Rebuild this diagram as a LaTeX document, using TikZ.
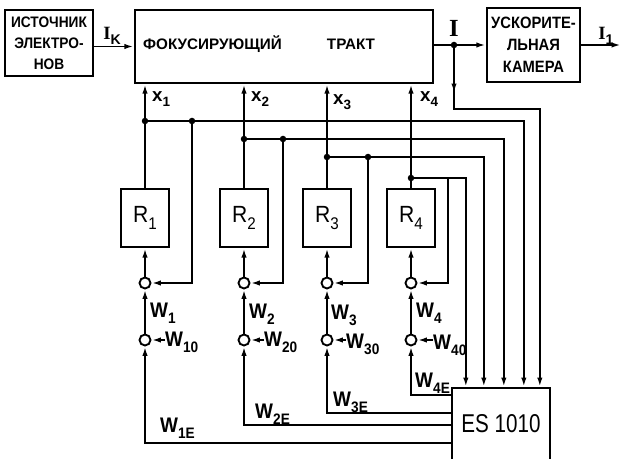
\documentclass[tikz,border=0pt]{standalone}
\usepackage{graphicx}
\usepackage{fontspec}
\setmainfont{Liberation Sans}
\newfontfamily\cfont[FakeStretch=0.9]{Liberation Sans}
\newfontfamily\esfont[FakeStretch=0.8]{Liberation Sans}
\newfontfamily\ifont{Liberation Serif}
\usetikzlibrary{positioning, arrows.meta, calc}
\newcommand{\pixel}{0.03cm}
\newcommand{\idx}[2]{#1\raisebox{-0.3em}{\scalebox{0.72}{#2}}}
\newcommand{\cur}[1]{{\ifont\bfseries I}\raisebox{-0.25em}{\scalebox{0.75}{#1}}}

\begin{document}
\begin{tikzpicture}[
    x=\pixel, y=-\pixel,
    block/.style={
        draw,
        line width=2pt,
        inner sep=0pt,
        align=center
    },
    boxsize/.style 2 args={minimum width=#1*\pixel, minimum height=#2*\pixel},
    boxtxt/.style={font=\cfont\bfseries\fontsize{13}{18}\selectfont},
    regler/.style={block, boxsize={48}{58}, font=\cfont\fontsize{20}{20}\selectfont},
    sumpt/.style={circle, draw, fill=white, line width=1.6pt, minimum size=11*\pixel, inner sep=0pt},
    dot/.style={circle, fill, inner sep=0pt, minimum size=6.5*\pixel},
    wire/.style={line width=1.6pt},
    wlbl/.style={inner sep=0pt, anchor=west, font=\cfont\bfseries\fontsize{18}{18}\selectfont},
    xlbl/.style={inner sep=0pt, anchor=west, font=\bfseries\fontsize{16}{16}\selectfont},
    curlbl/.style={inner sep=0pt, font=\bfseries\fontsize{16}{16}\selectfont},
    >={Latex[length=8pt, width=4.5pt]}
]
    \useasboundingbox (0,0) rectangle (623,459);

    % --- Main chain: source, focusing path, accelerator ---
    \node[block, boxsize={88}{66}, boxtxt] (src) at (49,43) {ИСТОЧНИК\\ЭЛЕКТРО-\\НОВ};
    \node[block, boxsize={298}{73}] (focus) at (284,46.5) {};
    \node[boxtxt, inner sep=0pt, anchor=west, font=\bfseries\fontsize{13}{18}\selectfont] (ftitle) at (143,44) {ФОКУСИРУЮЩИЙ};
    \node[boxtxt, inner sep=0pt, font=\bfseries\fontsize{13}{18}\selectfont] (ftract) at (351,44) {ТРАКТ};
    \node[block, boxsize={93}{74}, boxtxt, font=\cfont\bfseries\fontsize{14}{19}\selectfont] (accel) at (533.5,45) {УСКОРИТЕ-\\ЛЬНАЯ\\КАМЕРА};

    % --- Computer ---
    \node[block, boxsize={98}{84}, anchor=north, font=\esfont\fontsize{22}{22}\selectfont,
          text height=16pt, text depth=12pt] (es) at (501,387) {ES 1010};

    % --- Regulators ---
    \node[regler] (r1) at (145,218) {\idx{R}{1}};
    \node[regler] (r2) at (244,218) {\idx{R}{2}};
    \node[regler] (r3) at (327,218) {\idx{R}{3}};
    \node[regler] (r4) at (411,218) {\idx{R}{4}};

    % --- Summing points ---
    \node[sumpt] (u1) at (145,283) {};
    \node[sumpt] (l1) at (145,340) {};
    \node[sumpt] (u2) at (244,283) {};
    \node[sumpt] (l2) at (244,340) {};
    \node[sumpt] (u3) at (327,283) {};
    \node[sumpt] (l3) at (327,340) {};
    \node[sumpt] (u4) at (411,283) {};
    \node[sumpt] (l4) at (411,340) {};

    % --- Branch points ---
    \node[dot] (d1a) at (145,121) {};
    \node[dot] (d1b) at (192,121) {};
    \node[dot] (d2a) at (244,139) {};
    \node[dot] (d2b) at (283,139) {};
    \node[dot] (d3a) at (327,157) {};
    \node[dot] (d3b) at (368,157) {};
    \node[dot] (d4a) at (411,178) {};
    \coordinate (t4) at (448,178);
    \node[dot] (jn) at (454,45) {};
    \coordinate (jc) at (454,109);
    \coordinate (out) at (621,45);

    % --- Inputs and outputs of the computer ---
    \coordinate (in1) at ($(es.north west)+(15,0)$);
    \coordinate (in2) at ($(es.north west)+(33,0)$);
    \coordinate (in3) at ($(es.north west)+(53,0)$);
    \coordinate (in4) at ($(es.north west)+(73,0)$);
    \coordinate (in5) at ($(es.north west)+(89,0)$);
    \coordinate (e1) at (es.west |- 0,443);
    \coordinate (e2) at (es.west |- 0,425);
    \coordinate (e3) at (es.west |- 0,413);
    \coordinate (e4) at (es.west |- 0,395);

    % --- Beam path ---
    \draw[wire, ->] (src.east |- focus) -- (focus);
    \node[curlbl] (ik) at (112,36) {\cur{K}};
    \draw[wire, ->] (focus.east |- jn) -- (accel.west |- jn);
    \node[inner sep=0pt, font=\ifont\bfseries\fontsize{21}{21}\selectfont] (ijn) at (454,28) {I};
    \draw[wire, ->] (jn) -- ($(jn)!0.75!(jc)$);
    \draw[wire, ->] (jn) -- (jc) -| (in5);
    \draw[wire, ->] (accel) -- (out);
    \node[curlbl] (i1) at (606,36) {\cur{1}};

    % --- Control inputs of the focusing path ---
    \draw[wire, ->] (r1) -- (d1a) -- (d1a |- focus.south);
    \draw[wire, ->] (r2) -- (d2a) -- (d2a |- focus.south);
    \draw[wire, ->] (r3) -- (d3a) -- (d3a |- focus.south);
    \draw[wire, ->] (r4) -- (d4a) -- (d4a |- focus.south);
    \node[xlbl] (x1) at (152,99) {\idx{x}{1}};
    \node[xlbl] (x2) at (251,99) {\idx{x}{2}};
    \node[xlbl] (x3) at (333,102) {\idx{x}{3}};
    \node[xlbl] (x4) at (420,99) {\idx{x}{4}};

    % --- Measured values to the computer ---
    \draw[wire, ->] (d1a) -- (d1b) -| (in4);
    \draw[wire, ->] (d2a) -- (d2b) -| (in3);
    \draw[wire, ->] (d3a) -- (d3b) -| (in2);
    \draw[wire, ->] (d4a) -| (in1);

    % --- Feedback to the summing points ---
    \draw[wire, ->] (d1b) |- (u1);
    \draw[wire, ->] (d2b) |- (u2);
    \draw[wire, ->] (d3b) |- (u3);
    \draw[wire, ->] (t4) |- (u4);

    % --- Set values from the computer ---
    \draw[wire, ->] (e1) -| (l1);
    \draw[wire, ->] (e2) -| (l2);
    \draw[wire, ->] (e3) -| (l3);
    \draw[wire, ->] (e4) -| (l4);

    \draw[wire, ->] (u1) -- (r1);
    \draw[wire, ->] (u2) -- (r2);
    \draw[wire, ->] (u3) -- (r3);
    \draw[wire, ->] (u4) -- (r4);
    \draw[wire, ->] (l1) -- (u1);
    \draw[wire, ->] (l2) -- (u2);
    \draw[wire, ->] (l3) -- (u3);
    \draw[wire, ->] (l4) -- (u4);

    % --- Signal labels ---
    \node[wlbl] (w1) at (150,313) {\idx{W}{1}};
    \node[wlbl] (w2) at (249,314) {\idx{W}{2}};
    \node[wlbl] (w3) at (331,315) {\idx{W}{3}};
    \node[wlbl] (w4) at (416,313) {\idx{W}{4}};
    \node[wlbl] (w10) at (165,342) {\idx{W}{10}};
    \node[wlbl] (w20) at (264,342) {\idx{W}{20}};
    \node[wlbl] (w30) at (346,344) {\idx{W}{30}};
    \node[wlbl] (w40) at (433,345) {\idx{W}{40}};
    \draw[wire, ->] (w10.west |- l1) -- (l1);
    \draw[wire, ->] (w20.west |- l2) -- (l2);
    \draw[wire, ->] (w30.west |- l3) -- (l3);
    \draw[wire, ->] (w40.west |- l4) -- (l4);
    \node[wlbl] (w1e) at (160,428) {\idx{W}{1E}};
    \node[wlbl] (w2e) at (255,414) {\idx{W}{2E}};
    \node[wlbl] (w3e) at (333,402) {\idx{W}{3E}};
    \node[wlbl] (w4e) at (415,383) {\idx{W}{4E}};

\end{tikzpicture}
\end{document}
